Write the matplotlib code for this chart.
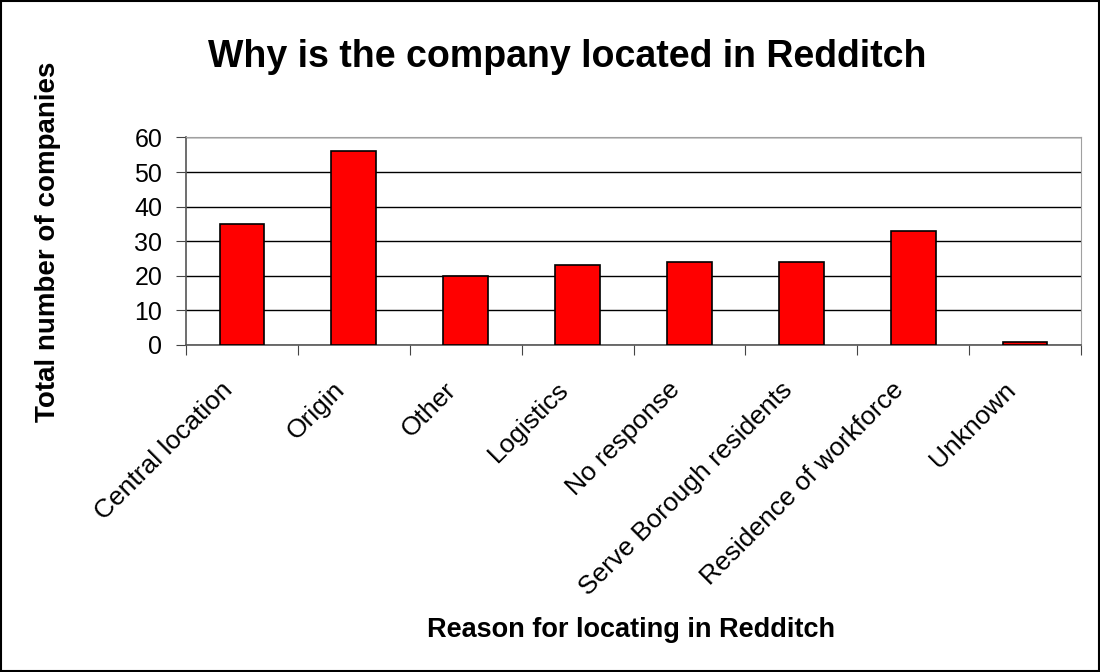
import matplotlib
matplotlib.use("Agg")
import matplotlib.pyplot as plt
from matplotlib.patches import Rectangle

categories = ["Central location", "Origin", "Other", "Logistics", "No response",
              "Serve Borough residents", "Residence of workforce", "Unknown"]
values = [35, 56, 20, 23, 24, 24, 33, 1]
yticks = [0, 10, 20, 30, 40, 50, 60]

plt.rcParams['font.family'] = ['Liberation Sans', 'DejaVu Sans']

fig = plt.figure(figsize=(11, 6.72), dpi=100)
ax = fig.add_axes([186/1100, 1-345/672, (1081-186)/1100, (345-137.5)/672])

x = list(range(len(categories)))
ax.bar(x, values, width=0.4, color='#ff0000', edgecolor='black', linewidth=1.2, zorder=3)
ax.set_xlim(-0.5, len(categories)-0.5)
ax.set_ylim(0, 60)
ax.set_yticks(yticks)
ax.set_yticklabels([str(v) for v in yticks], fontsize=18)
ax.yaxis.grid(True, color='black', linewidth=1, zorder=0)
ax.set_axisbelow(True)

ax.set_xticks([i + 0.5 for i in x[:-1]] + [-0.5, len(categories)-0.5])
ax.set_xticklabels([])
ax.tick_params(axis='x', length=7, direction='out', color='#444444')
ax.tick_params(axis='y', length=7, direction='out', color='#444444', pad=10)
for i, c in enumerate(categories):
    ax.text(i - 0.19, -9.4, c, rotation=45, ha='right', va='top', rotation_mode='anchor',
            fontsize=19)

for s in ['top', 'right']:
    ax.spines[s].set_color('#a0a0a0')
for s in ['left', 'bottom']:
    ax.spines[s].set_color('#555555')
    ax.spines[s].set_linewidth(1.2)

fig.text(567/1100, 1-57/672, "Why is the company located in Redditch", ha='center', va='center',
         fontsize=27, fontweight='bold')
fig.text(631/1100, 1-630/672, "Reason for locating in Redditch", ha='center', va='center',
         fontsize=19.5, fontweight='bold')
fig.text(48/1100, 1-242/672, "Total number of companies", ha='center', va='center',
         fontsize=20, fontweight='bold', rotation=90)

fig.patches.append(Rectangle((1/1100, 1/672), 1-2/1100, 1-2/672, transform=fig.transFigure,
                             fill=False, edgecolor='black', linewidth=1.5))

fig.savefig("out.png", dpi=100)
